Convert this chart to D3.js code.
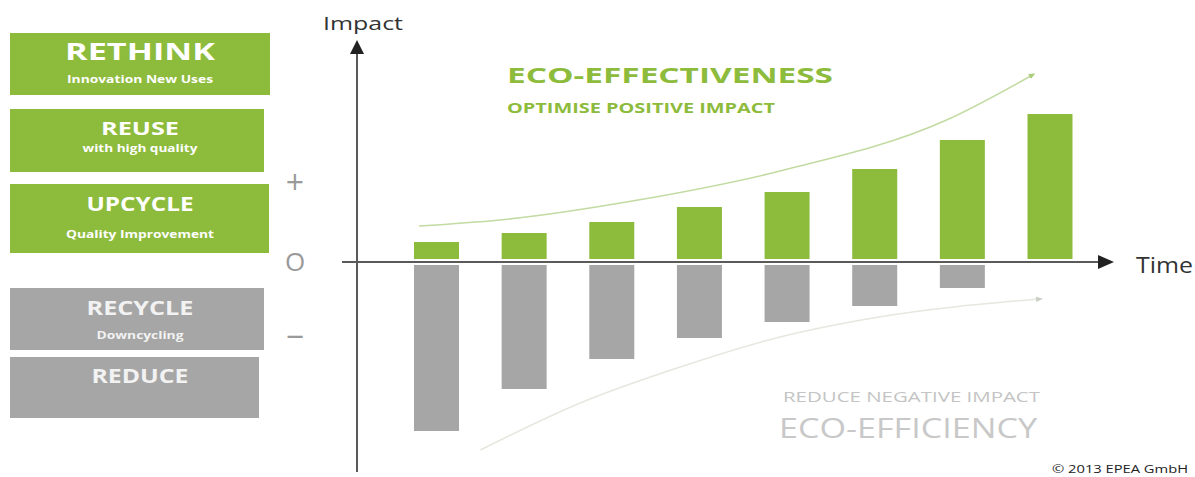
<!DOCTYPE html>
<html><head><meta charset="utf-8">
<script src="https://cdn.jsdelivr.net/npm/d3@7"></script>
<style>html,body{margin:0;padding:0;background:#fff;overflow:hidden}svg{display:block}text{font-family:"Open Sans",sans-serif}</style>
</head><body><svg id="c" width="1195" height="477"></svg>
<script>
// ---- data ----
const periods = [0,1,2,3,4,5,6,7];
const positiveImpact = [2.0, 2.9, 4.0, 5.5, 7.0, 9.3, 12.2, 14.8];
const negativeImpact = [-16.6, -12.4, -9.4, -7.3, -5.7, -4.1, -2.3, 0];
const upperTrend = [[-0.2,3.6],[0.72,4.2],[2.3,6.2],[3.92,9.1],[5.82,14.2],[6.8,18.7]];
const lowerTrend = [[0.5,-18.8],[1.64,-14.1],[2.78,-10.5],[3.92,-7.5],[4.98,-5.6],[6.88,-3.7]];
const strategyNames = ["RETHINK","REUSE","UPCYCLE","RECYCLE","REDUCE"];
const strategySubs = ["Innovation New Uses","with high quality","Quality Improvement","Downcycling",""];
const strategyKind = ["pos","pos","pos","neg","neg"];
const signLabels = ["+","O","\u2212"];
const signValues = [7.8, 0, -7.5];

const GREEN = "#8dbb3c", GREY = "#a6a6a6";
const svg = d3.select("#c");
const x = d3.scaleLinear().domain([0,7]).range([436.5,1050]);
const y = d3.scaleLinear().domain([-20,22]).range([462,42]);
const bw = 45;

// left boxes layout
const boxes = [
 {x0:10,x1:270,y0:33,y1:95,ts:23,tb:60,tw:150,ss:11,sb:83,sw:146},
 {x0:10,x1:264,y0:109,y1:172,ts:18,tb:135,tw:78,ss:10.5,sb:152,sw:115},
 {x0:10,x1:269,y0:184,y1:253,ts:19,tb:211,tw:107,ss:11,sb:238,sw:148},
 {x0:10,x1:264,y0:288,y1:350,ts:19,tb:315,tw:107,ss:10,sb:339,sw:87},
 {x0:10,x1:259,y0:357,y1:418,ts:19,tb:383,tw:97,ss:10,sb:0,sw:0}
];
const lg = svg.append("g");
strategyNames.forEach((n,i)=>{
  const b = boxes[i], pos = strategyKind[i]==="pos";
  lg.append("rect").attr("x",b.x0).attr("y",b.y0).attr("width",b.x1-b.x0).attr("height",b.y1-b.y0)
    .attr("fill",pos?GREEN:GREY);
  const cx = 140;
  lg.append("text").attr("x",cx).attr("y",b.tb).attr("text-anchor","middle")
    .attr("font-size",b.ts).attr("font-weight",700).attr("fill",pos?"#fff":"#f2f2f2")
    .attr("textLength",b.tw).attr("lengthAdjust","spacingAndGlyphs").text(n);
  if(strategySubs[i]) lg.append("text").attr("x",cx).attr("y",b.sb).attr("text-anchor","middle")
    .attr("font-size",b.ss).attr("font-weight",700).attr("fill",pos?"#fff":"#f2f2f2")
    .attr("textLength",b.sw).attr("lengthAdjust","spacingAndGlyphs").text(strategySubs[i]);
});

// sign labels
const signSize = [32, 26, 32], signDy = [10, 9, 11];
signLabels.forEach((s,i)=>{
  svg.append("text").attr("x",295).attr("y",y(signValues[i])+signDy[i]).attr("text-anchor","middle")
    .attr("font-size",signSize[i]).attr("fill","#9a9a9a").text(s);
});

// bars
svg.append("g").selectAll("rect").data(periods).join("rect")
  .attr("x",d=>x(d)-bw/2).attr("width",bw)
  .attr("y",d=>y(positiveImpact[d])).attr("height",d=>y(0)-3-y(positiveImpact[d]))
  .attr("fill",GREEN);
svg.append("g").selectAll("rect").data(periods.filter(d=>negativeImpact[d]<0)).join("rect")
  .attr("x",d=>x(d)-bw/2).attr("width",bw)
  .attr("y",y(0)+3).attr("height",d=>y(negativeImpact[d])-y(0))
  .attr("fill",GREY);

// trend curves
const defs = svg.append("defs");
function marker(id,col){
  defs.append("marker").attr("id",id).attr("viewBox","0 0 10 10").attr("refX",5).attr("refY",5)
    .attr("markerWidth",4.5).attr("markerHeight",4.5).attr("orient","auto")
    .append("path").attr("d","M0,1 L10,5 L0,9 Z").attr("fill",col);
}
marker("mg","#a9cc78"); marker("mr","#c9cfc2");
const line = d3.line().x(d=>x(d[0])).y(d=>y(d[1])).curve(d3.curveMonotoneX);
svg.append("path").attr("d",line(upperTrend)).attr("fill","none").attr("stroke","#c2dba2")
  .attr("stroke-width",1.5).attr("marker-end","url(#mg)");
svg.append("path").attr("d",line(lowerTrend)).attr("fill","none").attr("stroke","#e4e8de")
  .attr("stroke-width",1.5).attr("marker-end","url(#mr)");

// axes
const ax = svg.append("g").attr("fill","none");
const x0 = 357, y0 = y(0);
ax.append("line").attr("x1",x0).attr("x2",x0).attr("y1",472).attr("y2",52).attr("stroke","#5a5a5a").attr("stroke-width",2);
ax.append("path").attr("d",`M${x0},40 L${x0+7},54 L${x0-7},54 Z`).attr("fill","#222");
ax.append("line").attr("x1",342).attr("x2",1100).attr("y1",y0).attr("y2",y0).attr("stroke","#5a5a5a").attr("stroke-width",2);
ax.append("path").attr("d",`M1114,${y0} L1098,${y0-7} L1098,${y0+7} Z`).attr("fill","#222");

svg.append("text").attr("x",363).attr("y",30).attr("text-anchor","middle").attr("font-size",19)
  .attr("fill","#333").attr("textLength",80).attr("lengthAdjust","spacingAndGlyphs").text("Impact");
svg.append("text").attr("x",1136).attr("y",273).attr("font-size",21)
  .attr("fill","#333").attr("textLength",57).attr("lengthAdjust","spacingAndGlyphs").text("Time");

// annotations
svg.append("text").attr("x",507).attr("y",83).attr("font-size",21).attr("font-weight",700).attr("fill",GREEN)
  .attr("textLength",326).attr("lengthAdjust","spacingAndGlyphs").text("ECO-EFFECTIVENESS");
svg.append("text").attr("x",507).attr("y",113).attr("font-size",14).attr("font-weight",700).attr("fill",GREEN)
  .attr("textLength",268).attr("lengthAdjust","spacingAndGlyphs").text("OPTIMISE POSITIVE IMPACT");
svg.append("text").attr("x",783).attr("y",402).attr("font-size",15).attr("fill","#c4c4c4")
  .attr("textLength",257).attr("lengthAdjust","spacingAndGlyphs").text("REDUCE NEGATIVE IMPACT");
svg.append("text").attr("x",779).attr("y",438).attr("font-size",28).attr("fill","#c8c8c8")
  .attr("textLength",258).attr("lengthAdjust","spacingAndGlyphs").text("ECO-EFFICIENCY");
svg.append("text").attr("x",1052).attr("y",473).attr("font-size",11).attr("fill","#222")
  .attr("textLength",136).attr("lengthAdjust","spacingAndGlyphs").text("\u00a9 2013 EPEA GmbH");
</script></body></html>
